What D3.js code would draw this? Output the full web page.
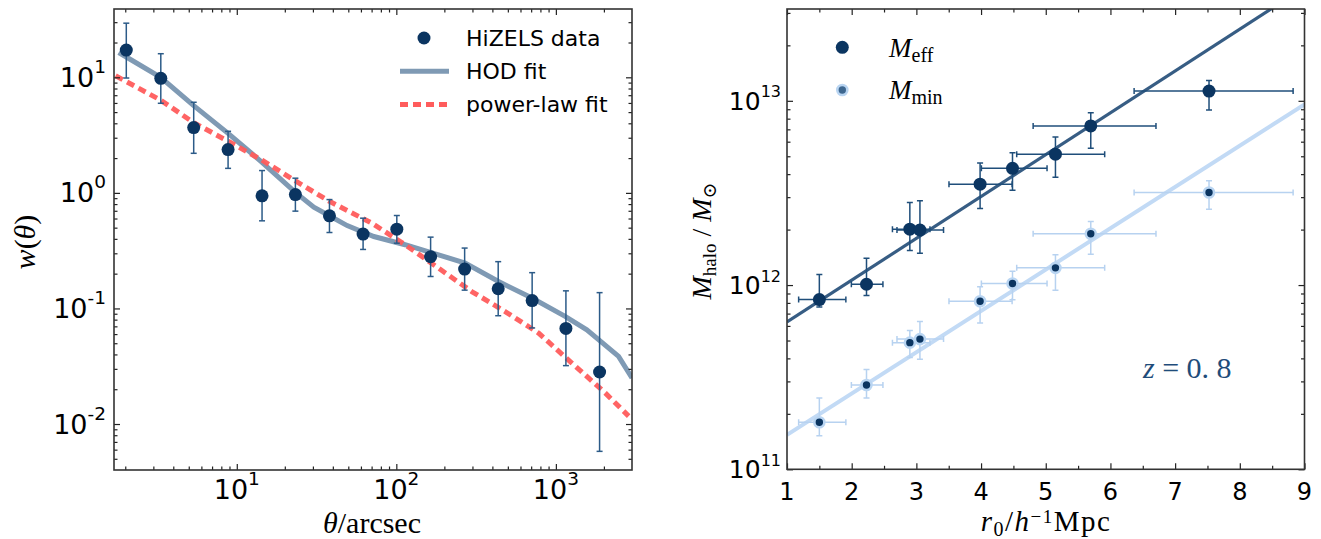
<!DOCTYPE html>
<html>
<head>
<meta charset="utf-8">
<script src="https://cdn.jsdelivr.net/npm/d3@7"></script>
<style>
  body { margin: 0; background: #fff; }
  svg text { font-family: "DejaVu Sans", sans-serif; fill: #000; }
  svg text.math { font-family: "Liberation Serif", "DejaVu Serif", serif; }
</style>
</head>
<body>
<div id="plot"></div>
<script>
// ---- left panel: angular correlation function ----
var theta   = [2.03, 3.34, 5.37, 8.82, 14.4, 23.3, 38.1, 61.9, 100.7, 164, 268, 435, 710, 1156, 1879];
var wTheta  = [17.2, 9.8, 3.67, 2.37, 0.942, 0.966, 0.633, 0.44, 0.485, 0.28, 0.219, 0.148, 0.117, 0.0671, 0.0282];
var wHi     = [29.4, 16.0, 6.08, 3.41, 1.56, 1.34, 0.875, 0.604, 0.637, 0.414, 0.333, 0.254, 0.204, 0.142, 0.137];
var wLo     = [9.86, 5.96, 2.20, 1.63, 0.573, 0.695, 0.454, 0.324, 0.367, 0.189, 0.144, 0.0865, 0.0678, 0.032, 0.0058];

var hodTheta = [1.82, 3.33, 5.37, 8.9, 14.4, 23.3, 30.4, 37.8, 49.2, 72.3, 113.5, 184, 270, 437, 708, 1143, 1563, 2472, 3000];
var hodW     = [16.4, 10.0, 5.69, 3.24, 1.84, 1.01, 0.752, 0.637, 0.521, 0.419, 0.356, 0.291, 0.247, 0.171, 0.123, 0.0853, 0.0654, 0.0385, 0.0250];

var plTheta = [1.74, 3.33, 5.37, 8.9, 14.4, 23.3, 37.8, 70.2, 113.5, 184, 297, 481, 779, 1259, 2037, 2858];
var plW     = [10.3, 6.35, 4.05, 2.78, 1.92, 1.27, 0.85, 0.547, 0.356, 0.223, 0.140, 0.094, 0.0612, 0.0337, 0.0186, 0.0117];

var xMajorL = [10, 100, 1000];
var yMajorL = [0.01, 0.1, 1, 10];
var legendL = ["HiZELS data", "HOD fit", "power-law fit"];

// ---- right panel: halo mass vs r0 ----
var r0    = [1.50, 2.229, 2.899, 3.055, 3.985, 4.486, 5.15, 5.696, 7.524];
var r0Lo  = [1.18, 1.995, 2.63, 2.70, 3.504, 4.005, 4.551, 4.805, 6.366];
var r0Hi  = [1.91, 2.483, 3.21, 3.42, 4.480, 5.02, 5.911, 6.704, 8.824];
var mEff   = [8.34e11, 1.01e12, 2.01e12, 1.99e12, 3.53e12, 4.30e12, 5.13e12, 7.31e12, 1.13e13];
var mEffHi = [1.14e12, 1.40e12, 2.81e12, 2.87e12, 4.59e12, 5.22e12, 6.37e12, 8.61e12, 1.29e13];
var mEffLo = [7.6e11, 8.79e11, 1.54e12, 1.49e12, 2.60e12, 3.27e12, 3.85e12, 5.52e12, 8.91e12];
var mMin   = [1.80e11, 2.87e11, 4.87e11, 5.09e11, 8.17e11, 1.02e12, 1.24e12, 1.90e12, 3.18e12];
var mMinHi = [2.44e11, 3.48e11, 5.67e11, 6.34e11, 9.79e11, 1.19e12, 1.46e12, 2.21e12, 3.68e12];
var mMinLo = [1.52e11, 2.44e11, 4.05e11, 3.96e11, 6.22e11, 8.32e11, 9.37e11, 1.47e12, 2.58e12];

var effFitR = [1, 9];
var effFitM = [6.3e11, 4.13e13];
var minFitR = [1, 9];
var minFitM = [1.54e11, 9.57e12];

var xMajorR = [1, 2, 3, 4, 5, 6, 7, 8, 9];
var xMinorR = [1.5, 2.5, 3.5, 4.5, 5.5, 6.5, 7.5, 8.5];
var yMajorR = [1e11, 1e12, 1e13];

var width = 1321;
var height = 539;

var svg = d3.select("#plot").append("svg")
            .attr("width", width)
            .attr("height", height);

var navy = "#0b3561";

// log minor tick positions inside a domain
function logMinors(lo, hi) {
    var out = [];
    for (var e = Math.floor(Math.log10(lo)); e <= Math.ceil(Math.log10(hi)); e++) {
        for (var m = 2; m <= 9; m++) {
            var v = m * Math.pow(10, e);
            if (v > lo * 1.001 && v < hi * 0.999) out.push(v);
        }
    }
    return out;
}

// inward ticks on all four sides + frame
function frame(x, y, xMaj, xMin, yMaj, yMin) {
    var l = x.range()[0], r = x.range()[1], b = y.range()[0], t = y.range()[1];
    function ax(fn, scale, vals, size, tr) {
        var g = svg.append("g").attr("transform", tr)
            .call(fn(scale).tickValues(vals).tickSize(size).tickFormat(""));
        g.select(".domain").remove();
        g.selectAll("line").attr("stroke", "#222").attr("stroke-width", 1.2);
    }
    [[xMaj, -6], [xMin, -3.5]].forEach(function(p) {
        ax(d3.axisBottom, x, p[0], p[1], "translate(0," + b + ")");
        ax(d3.axisTop, x, p[0], p[1], "translate(0," + t + ")");
    });
    [[yMaj, -6], [yMin, -3.5]].forEach(function(p) {
        ax(d3.axisLeft, y, p[0], p[1], "translate(" + l + ",0)");
        ax(d3.axisRight, y, p[0], p[1], "translate(" + r + ",0)");
    });
    svg.append("rect")
        .attr("x", l).attr("y", t)
        .attr("width", r - l).attr("height", b - t)
        .attr("fill", "none").attr("stroke", "#333").attr("stroke-width", 1.6);
}

function powLabel(x, y, anchor, exp, big, small, raise) {
    var t = svg.append("text").attr("x", x).attr("y", y).attr("text-anchor", anchor);
    t.append("tspan").style("font-size", big + "px").text("10");
    t.append("tspan").style("font-size", small + "px").attr("dy", -raise).text(exp);
}

function clip(id, x, y) {
    svg.append("clipPath").attr("id", id).append("rect")
        .attr("x", x.range()[0]).attr("y", y.range()[1])
        .attr("width", x.range()[1] - x.range()[0])
        .attr("height", y.range()[0] - y.range()[1]);
}

function errBars(g, xs, ys, lo, hi, color, vertical, scaleA, scaleB) {
    xs.forEach(function(v, i) {
        if (vertical) {
            var px = scaleA(v);
            g.append("line").attr("x1", px).attr("x2", px)
                .attr("y1", scaleB(lo[i])).attr("y2", scaleB(hi[i]))
                .attr("stroke", color).attr("stroke-width", 1.5);
            [lo[i], hi[i]].forEach(function(e) {
                g.append("line").attr("x1", px - 3).attr("x2", px + 3)
                    .attr("y1", scaleB(e)).attr("y2", scaleB(e))
                    .attr("stroke", color).attr("stroke-width", 1.5);
            });
        } else {
            var py = scaleB(ys[i]);
            g.append("line").attr("y1", py).attr("y2", py)
                .attr("x1", scaleA(lo[i])).attr("x2", scaleA(hi[i]))
                .attr("stroke", color).attr("stroke-width", 1.5);
            [lo[i], hi[i]].forEach(function(e) {
                g.append("line").attr("y1", py - 3).attr("y2", py + 3)
                    .attr("x1", scaleA(e)).attr("x2", scaleA(e))
                    .attr("stroke", color).attr("stroke-width", 1.5);
            });
        }
    });
}

//////////////////////  left panel
var xL = d3.scaleLog().domain([1.7, 3000]).range([114, 632]);
var yL = d3.scaleLog().domain([0.004, 39]).range([470, 9]);
clip("clipL", xL, yL);

var lineL = d3.line().x(function(d) { return xL(d[0]); }).y(function(d) { return yL(d[1]); });
var gL = svg.append("g").attr("clip-path", "url(#clipL)");

gL.append("path")
    .attr("d", lineL(d3.zip(hodTheta, hodW)))
    .attr("fill", "none").attr("stroke", "#7f9ab4").attr("stroke-width", 5);
gL.append("path")
    .attr("d", lineL(d3.zip(plTheta, plW)))
    .attr("fill", "none").attr("stroke", "#ff5c5c").attr("stroke-opacity", 0.95)
    .attr("stroke-width", 5).attr("stroke-dasharray", "8,5");

errBars(gL, theta, wTheta, wLo, wHi, "#2c5b88", true, xL, yL);
gL.selectAll("circle.pt")
    .data(d3.zip(theta, wTheta))
    .enter().append("circle")
    .attr("class", "pt")
    .attr("cx", function(d) { return xL(d[0]); })
    .attr("cy", function(d) { return yL(d[1]); })
    .attr("r", 6.5)
    .attr("fill", navy);

frame(xL, yL, xMajorL, logMinors(1.7, 3000), yMajorL, logMinors(0.004, 39));

xMajorL.forEach(function(v) {
    powLabel(xL(v), 499, "middle", String(Math.round(Math.log10(v))), 27, 18.5, 14);
});
yMajorL.forEach(function(v) {
    powLabel(106, yL(v) + 9.5, "end", String(Math.round(Math.log10(v))), 27, 18.5, 14);
});

// left legend
svg.append("circle").attr("cx", 424).attr("cy", 38).attr("r", 6.5).attr("fill", navy);
svg.append("line").attr("x1", 400).attr("x2", 449).attr("y1", 71.2).attr("y2", 71.2)
    .attr("stroke", "#7f9ab4").attr("stroke-width", 5);
svg.append("line").attr("x1", 400).attr("x2", 449).attr("y1", 104.6).attr("y2", 104.6)
    .attr("stroke", "#ff5c5c").attr("stroke-width", 5).attr("stroke-dasharray", "8,5");
legendL.forEach(function(s, i) {
    svg.append("text").attr("x", 466).attr("y", 46 + i * 33.2)
        .style("font-size", "22px").text(s);
});

// left axis titles
var xt = svg.append("text").attr("class", "math")
    .attr("x", 372).attr("y", 533).attr("text-anchor", "middle").style("font-size", "30px");
xt.append("tspan").style("font-style", "italic").text("θ");
xt.append("tspan").text("/arcsec");

var yt = svg.append("text").attr("class", "math")
    .attr("transform", "translate(35,242) rotate(-90)")
    .attr("text-anchor", "middle").style("font-size", "30px");
yt.append("tspan").style("font-style", "italic").text("w");
yt.append("tspan").text("(");
yt.append("tspan").style("font-style", "italic").text("θ");
yt.append("tspan").text(")");

//////////////////////  right panel
var xR = d3.scaleLinear().domain([1, 9]).range([787, 1304.5]);
var yR = d3.scaleLog().domain([1e11, 3.15e13]).range([469.3, 9]);
clip("clipR", xR, yR);

var lineR = d3.line().x(function(d) { return xR(d[0]); }).y(function(d) { return yR(d[1]); });
var gR = svg.append("g").attr("clip-path", "url(#clipR)");

gR.append("path").attr("d", lineR(d3.zip(minFitR, minFitM)))
    .attr("fill", "none").attr("stroke", "#c2daf5").attr("stroke-width", 4);
gR.append("path").attr("d", lineR(d3.zip(effFitR, effFitM)))
    .attr("fill", "none").attr("stroke", "#375d84").attr("stroke-width", 3.2);

errBars(gR, r0, mMin, r0Lo, r0Hi, "#b7d2f0", false, xR, yR);
errBars(gR, r0, mMin, mMinLo, mMinHi, "#b7d2f0", true, xR, yR);
errBars(gR, r0, mEff, r0Lo, r0Hi, "#1f4e7a", false, xR, yR);
errBars(gR, r0, mEff, mEffLo, mEffHi, "#1f4e7a", true, xR, yR);

gR.selectAll("circle.mmin")
    .data(d3.zip(r0, mMin))
    .enter().append("circle")
    .attr("class", "mmin")
    .attr("cx", function(d) { return xR(d[0]); })
    .attr("cy", function(d) { return yR(d[1]); })
    .attr("r", 5)
    .attr("fill", navy).attr("stroke", "#b9d5f2").attr("stroke-width", 2.6);
gR.selectAll("circle.meff")
    .data(d3.zip(r0, mEff))
    .enter().append("circle")
    .attr("class", "meff")
    .attr("cx", function(d) { return xR(d[0]); })
    .attr("cy", function(d) { return yR(d[1]); })
    .attr("r", 6.5)
    .attr("fill", navy);

frame(xR, yR, xMajorR, xMinorR, yMajorR, logMinors(1e11, 3.15e13));

xMajorR.forEach(function(v) {
    svg.append("text").attr("x", xR(v)).attr("y", 500).attr("text-anchor", "middle")
        .style("font-size", "24px").text(v);
});
yMajorR.forEach(function(v) {
    powLabel(781, yR(v) + 9, "end", String(Math.round(Math.log10(v))), 25, 16, 12.5);
});

// right legend
svg.append("circle").attr("cx", 842.3).attr("cy", 47.3).attr("r", 6.5).attr("fill", navy);
svg.append("circle").attr("cx", 842.3).attr("cy", 90).attr("r", 5)
    .attr("fill", "#3d6790").attr("stroke", "#b9d5f2").attr("stroke-width", 2.6);
[["eff", 56.7], ["min", 99.3]].forEach(function(p) {
    var t = svg.append("text").attr("class", "math").attr("x", 889).attr("y", p[1]);
    t.append("tspan").style("font-size", "27px").style("font-style", "italic").text("M");
    t.append("tspan").style("font-size", "20px").attr("dy", 5).text(p[0]);
});

// redshift note
var zt = svg.append("text").attr("class", "math").attr("x", 1143).attr("y", 378)
    .style("font-size", "30px").style("fill", "#1f4c7a");
zt.append("tspan").style("font-style", "italic").style("fill", "#1f4c7a").text("z");
zt.append("tspan").style("fill", "#1f4c7a").text(" = 0. 8");

// right axis titles
var xt2 = svg.append("text").attr("class", "math")
    .attr("x", 1046).attr("y", 531).attr("text-anchor", "middle")
    .style("font-size", "29px").style("letter-spacing", "1.5px");
xt2.append("tspan").style("font-style", "italic").text("r");
xt2.append("tspan").style("font-size", "20px").attr("dy", 5).text("0");
xt2.append("tspan").attr("dy", -5).text("/");
xt2.append("tspan").style("font-style", "italic").text("h");
xt2.append("tspan").style("font-size", "19px").attr("dy", -8).text("−1");
xt2.append("tspan").attr("dy", 8).text("Mpc");

var yt2 = svg.append("text").attr("class", "math")
    .attr("transform", "translate(711,241) rotate(-90)")
    .attr("text-anchor", "middle").style("font-size", "28px");
yt2.append("tspan").style("font-style", "italic").text("M");
yt2.append("tspan").style("font-size", "19px").attr("dy", 5).text("halo");
yt2.append("tspan").attr("dy", -5).text(" / ");
yt2.append("tspan").style("font-style", "italic").text("M");
yt2.append("tspan").style("font-size", "19px").attr("dy", 5).text("⊙");
</script>
</body>
</html>
